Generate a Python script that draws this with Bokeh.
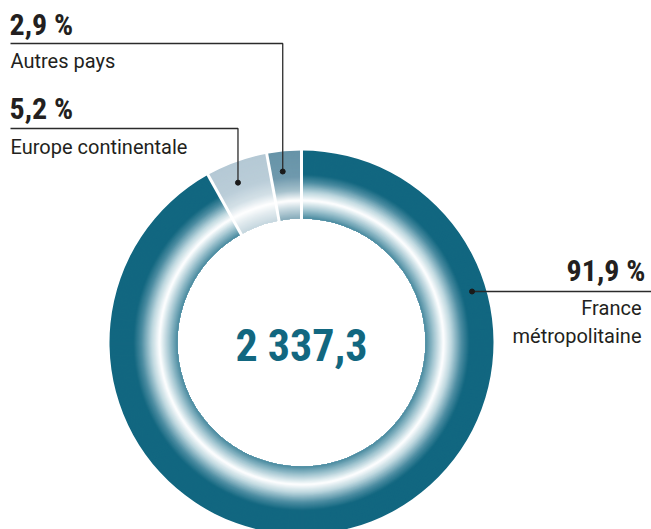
import math
from bokeh.plotting import figure
from bokeh.models import Range1d, ColumnDataSource
from bokeh.core.properties import value
from bokeh.embed import file_html
from bokeh.resources import INLINE

# ---- data ----
categories = ["France métropolitaine", "Europe continentale", "Autres pays"]
label_top = ["France", "Europe continentale", "Autres pays"]
shares = [91.9, 5.2, 2.9]
share_labels = ["91,9 %", "5,2 %", "2,9 %"]
total_label = "2 337,3"

# ---- style ----
FONT = value("Roboto")
FONT_B = value("Roboto Condensed")
TXT = "#231f20"
TEAL = "#126780"
W, H = 651, 529
BL = 0.37  # baseline correction (fraction of font size)


def fy(py):
    return H - py


def ty(py, size):
    return fy(py - BL * size)


CX, CY = 301, fy(342)
R_IN, R_OUT = 124, 192

grad = {
    "France métropolitaine": [(124, "#4a8ba0"), (133, "#a6c8d3"), (142, "#ffffff"),
                              (150, "#bcd6de"), (160, "#4d8da2"), (168, TEAL), (192, TEAL)],
    "Europe continentale": [(124, "#c6d7df"), (134, "#e2ebef"), (142, "#ffffff"),
                            (152, "#d3e0e7"), (166, "#bacdd8"), (192, "#b5c9d5")],
    "Autres pays": [(124, "#86abba"), (134, "#c3d6de"), (142, "#ffffff"),
                    (152, "#a6c1cc"), (166, "#6f99ad"), (192, "#6794a8")],
}


def hex2rgb(h):
    h = h.lstrip("#")
    return tuple(int(h[i:i + 2], 16) for i in (0, 2, 4))


def color_at(stops, r):
    for (r0, c0), (r1, c1) in zip(stops[:-1], stops[1:]):
        if r0 <= r <= r1:
            t = (r - r0) / (r1 - r0) if r1 > r0 else 0
            a, b = hex2rgb(c0), hex2rgb(c1)
            return "#%02x%02x%02x" % tuple(round(a[i] + (b[i] - a[i]) * t) for i in range(3))
    return stops[-1][1]


p = figure(width=W, height=H, x_range=Range1d(0, W), y_range=Range1d(0, H),
           output_backend="svg", toolbar_location=None, min_border=0)
p.axis.visible = False
p.grid.visible = False
p.outline_line_color = None
p.background_fill_color = "white"
p.border_fill_color = "white"

# angles: slices laid out counter-clockwise from the top, order Autres, Europe, France
order = [2, 1, 0]
start = math.pi / 2
bounds = {}
for i in order:
    span = shares[i] / sum(shares) * 2 * math.pi
    bounds[i] = (start, start + span)
    start += span

for i in order:
    a0, a1 = bounds[i]
    stops = grad[categories[i]]
    outs, cols = [], []
    for r in range(R_OUT, R_IN, -1):
        outs.append(r)
        cols.append(color_at(stops, r - 0.5))
    src = ColumnDataSource(dict(
        x=[CX] * len(outs), y=[CY] * len(outs), inner=[R_IN] * len(outs), outer=outs,
        s=[a0] * len(outs), e=[a1] * len(outs), c=cols))
    p.annular_wedge(x="x", y="y", inner_radius="inner", outer_radius="outer",
                    start_angle="s", end_angle="e", fill_color="c", line_color=None, source=src)

# white separators
seps_x0, seps_y0, seps_x1, seps_y1 = [], [], [], []
for i in order:
    a = bounds[i][0]
    seps_x0.append(CX + (R_IN - 3) * math.cos(a))
    seps_y0.append(CY + (R_IN - 3) * math.sin(a))
    seps_x1.append(CX + (R_OUT + 3) * math.cos(a))
    seps_y1.append(CY + (R_OUT + 3) * math.sin(a))
p.segment(seps_x0, seps_y0, seps_x1, seps_y1, line_color="white", line_width=3)

PCT = 30
LBL = 20
TOT = 44

# leaders for the small slices
LINE = "#2b2b2b"
leader_y = {2: fy(43), 1: fy(128)}
text_base = {2: (35, 68), 1: (119, 154)}
for i in (2, 1):
    a0, a1 = bounds[i]
    am = a0 + 0.6 * (a1 - a0)
    dx, dy = CX + 172 * math.cos(am), CY + 172 * math.sin(am)
    p.line([dx, dx, 10], [dy, leader_y[i], leader_y[i]], line_color=LINE, line_width=1.3)
    p.scatter([dx], [dy], size=5, color="#1a1a1a")
    yb1, yb2 = text_base[i]
    p.text([9], [ty(yb1, PCT)], text=[share_labels[i]], text_font=FONT_B, text_font_size=f"{PCT}px",
           text_font_style="bold", text_color=TXT, text_baseline="alphabetic", text_align="left")
    p.text([10], [ty(yb2, LBL)], text=[label_top[i]], text_font=FONT, text_font_size=f"{LBL}px",
           text_color=TXT, text_baseline="alphabetic", text_align="left")

# leader for France
ly = fy(291)
fr = 178
fx = CX + math.sqrt(fr ** 2 - (ly - CY) ** 2)
p.line([fx, W + 5], [ly, ly], line_color=LINE, line_width=1.3)
p.scatter([fx], [ly], size=5, color="#1a1a1a")
p.text([645], [ty(281, PCT)], text=[share_labels[0]], text_font=FONT_B, text_font_size=f"{PCT}px",
       text_font_style="bold", text_color=TXT, text_baseline="alphabetic", text_align="right")
p.text([641], [ty(315, LBL)], text=["France"], text_font=FONT, text_font_size=f"{LBL}px",
       text_color=TXT, text_baseline="alphabetic", text_align="right")
p.text([641], [ty(343, LBL)], text=["métropolitaine"], text_font=FONT, text_font_size=f"{LBL}px",
       text_color=TXT, text_baseline="alphabetic", text_align="right")

# total in the centre
p.text([CX], [ty(362, TOT)], text=[total_label], text_font=FONT_B, text_font_size=f"{TOT}px",
       text_font_style="bold", text_color=TEAL, text_baseline="alphabetic", text_align="center")

open("out.html", "w").write(file_html(p, INLINE))
